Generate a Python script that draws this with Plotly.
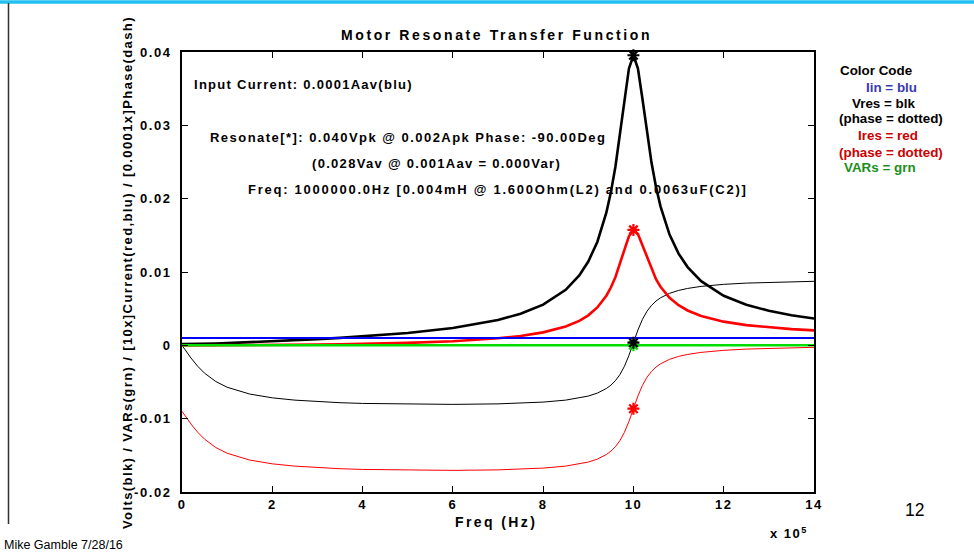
import plotly.graph_objects as go

# ---------------- data ----------------
freq_e5 = [0, 0.1, 0.2, 0.35, 0.5, 0.75, 1.0, 1.5, 2.0, 2.5, 3.0, 3.5, 4.0, 5.0, 6.0, 7.0, 7.5,
           8.0, 8.5, 8.8, 9.0, 9.2, 9.4, 9.5, 9.6, 9.7, 9.8, 9.9, 10.0, 10.1, 10.2, 10.3, 10.4,
           10.5, 10.6, 10.8, 11.0, 11.2, 11.5, 12.0, 12.5, 13.0, 13.5, 14.0]

v_res = [0.00016, 0.000162, 0.000168, 0.000183, 0.000204, 0.000249, 0.000301, 0.000419, 0.000549,
         0.000692, 0.000847, 0.001019, 0.001211, 0.001688, 0.002365, 0.003451, 0.004299, 0.005548,
         0.007577, 0.009540, 0.011427, 0.014100, 0.018092, 0.020858, 0.024326, 0.028584, 0.033402,
         0.037726, 0.039560, 0.037755, 0.033587, 0.028984, 0.024921, 0.021606, 0.018952, 0.015103,
         0.012509, 0.010672, 0.008753, 0.006763, 0.005537, 0.004707, 0.004107, 0.003653]

i_res_x10 = [0.0, 0.0000006, 0.0000013, 0.0000025, 0.0000041, 0.0000074, 0.000012, 0.000025,
             0.0000437, 0.0000688, 0.000101, 0.000142, 0.000193, 0.000336, 0.000565, 0.000961,
             0.001283, 0.001766, 0.002563, 0.003340, 0.004092, 0.005162, 0.006767, 0.007885,
             0.009292, 0.011032, 0.013025, 0.014861, 0.015741, 0.015173, 0.013632, 0.011879,
             0.010313, 0.009027, 0.007993, 0.006490, 0.005475, 0.004756, 0.004005, 0.003229,
             0.002754, 0.002435, 0.002206, 0.002035]

v_phase = [0.0, -0.000889, -0.001737, -0.002867, -0.003797, -0.00494, -0.005715, -0.006644,
           -0.007158, -0.007474, -0.007682, -0.007824, -0.007922, -0.008031, -0.008052, -0.007981,
           -0.007892, -0.00774, -0.007469, -0.007191, -0.006917, -0.006517, -0.005892, -0.005436,
           -0.004827, -0.003999, -0.002869, -0.001384, 0.000364, 0.002097, 0.003546, 0.004643,
           0.005444, 0.006036, 0.006481, 0.007092, 0.007487, 0.007759, 0.008038, 0.008319,
           0.008487, 0.008596, 0.008673, 0.00873]

i_phase = [-0.009, -0.009889, -0.010737, -0.011867, -0.012797, -0.01394, -0.014715, -0.015644,
           -0.016158, -0.016474, -0.016682, -0.016824, -0.016922, -0.017031, -0.017052, -0.016981,
           -0.016892, -0.01674, -0.016469, -0.016191, -0.015917, -0.015517, -0.014892, -0.014436,
           -0.013827, -0.012999, -0.011869, -0.010384, -0.008636, -0.006903, -0.005454, -0.004357,
           -0.003556, -0.002964, -0.002519, -0.001908, -0.001513, -0.001241, -0.000962, -0.000681,
           -0.000513, -0.000404, -0.000327, -0.00027]

i_in_level = [0.001, 0.001]
vars_level = [0.0, 0.0]
line_span = [0, 14]
res_freq = 10.0

x_tick_vals = [0, 2, 4, 6, 8, 10, 12, 14]
x_tick_text = ["0", "2", "4", "6", "8", "10", "12", "14"]
y_tick_vals = [-0.02, -0.01, 0, 0.01, 0.02, 0.03, 0.04]
y_tick_text = ["-0.02", "-0.01", "0", "0.01", "0.02", "0.03", "0.04"]

# ---------------- layout helpers ----------------
W, H = 974, 554
L, R, T, B = 182, 814, 52, 492


def px(x):
    return (x - L) / (R - L)


def py(y):
    return (B - y) / (B - T)


def sp(text, ls):
    return f'<span style="letter-spacing:{ls}px">{text}</span>'


FONT = "Liberation Sans"
ri = freq_e5.index(res_freq)

fig = go.Figure()
fig.add_trace(go.Scatter(x=freq_e5, y=v_phase, mode="lines", line=dict(color="black", width=1)))
fig.add_trace(go.Scatter(x=freq_e5, y=i_phase, mode="lines", line=dict(color="#ff0000", width=1)))
fig.add_trace(go.Scatter(x=freq_e5, y=v_res, mode="lines", line=dict(color="black", width=2.6)))
fig.add_trace(go.Scatter(x=freq_e5, y=i_res_x10, mode="lines", line=dict(color="#ff0000", width=2.6)))
fig.add_trace(go.Scatter(x=line_span, y=i_in_level, mode="lines", line=dict(color="#0000ff", width=1.8)))
fig.add_trace(go.Scatter(x=line_span, y=vars_level, mode="lines", line=dict(color="#00dd00", width=2.5)))

fig.add_trace(go.Scatter(x=[res_freq], y=[vars_level[0]], mode="markers",
                         marker=dict(symbol="asterisk-open", size=10, color="#00dd00",
                                     line=dict(color="#00dd00", width=2.2))))
for yv, col in [(v_res[ri], "black"), (i_res_x10[ri], "#ff0000"),
                (v_phase[ri], "black"), (i_phase[ri], "#ff0000")]:
    fig.add_trace(go.Scatter(x=[res_freq], y=[yv], mode="markers", cliponaxis=False,
                             marker=dict(symbol="asterisk-open", size=10, color=col,
                                         line=dict(color=col, width=2.2))))

axis_common = dict(showgrid=False, zeroline=False, showline=True, linecolor="black", linewidth=1.5,
                   mirror="ticks", ticks="inside", ticklen=6, tickwidth=1, tickcolor="black",
                   tickfont=dict(family=FONT, size=13, color="black", weight="bold"))

fig.update_layout(
    width=W, height=H, autosize=False,
    margin=dict(l=L, r=W - R, t=T, b=H - B, pad=0),
    paper_bgcolor="white", plot_bgcolor="white", showlegend=False,
    xaxis=dict(range=[0, 14], tickvals=x_tick_vals,
               ticktext=[sp(t, 1.5) for t in x_tick_text], ticklabelstandoff=0, **axis_common),
    yaxis=dict(range=[-0.02, 0.04], tickvals=y_tick_vals,
               ticktext=[sp(t, 1.6) for t in y_tick_text], ticklabelstandoff=6, **axis_common),
)

ann = []


def add_text(text, x, y, size=13, color="black", bold=True, ls=0, xanchor="center", angle=0):
    t = sp(text, ls) if ls else text
    ann.append(dict(text=t, x=px(x), y=py(y), xref="paper", yref="paper", showarrow=False,
                    xanchor=xanchor, yanchor="middle", textangle=angle,
                    font=dict(family=FONT, size=size, color=color, weight="bold" if bold else "normal")))


add_text("Motor Resonate Transfer Function", 496, 35, size=14, ls=2.6)
add_text("Freq (Hz)", 496, 522, size=14, ls=2.4)
add_text("x 10<sup>5</sup>", 789, 533, size=13, ls=1.5)
add_text("Volts(blk) / VARs(grn) / [10x]Current(red,blu) / [0.0001x]Phase(dash)", 127, 273,
         size=13, ls=1.4, angle=-90)

add_text("Input Current: 0.0001Aav(blu)", 303, 84, size=13, ls=1.27)
add_text("Resonate[*]: 0.040Vpk @ 0.002Apk Phase: -90.00Deg", 408, 137, size=13, ls=1.46)
add_text("(0.028Vav @ 0.001Aav = 0.000Var)", 436, 163, size=13, ls=1.3)
add_text("Freq: 1000000.0Hz [0.004mH @ 1.600Ohm(L2) and 0.0063uF(C2)]", 497.5, 190, size=13, ls=1.75)

legend_lines = [("Color Code", 876, 70, "black"), ("Iin = blu", 891, 87, "#3a3ab0"),
                ("Vres = blk", 883.5, 103, "black"), ("(phase = dotted)", 891, 118, "black"),
                ("Ires = red", 887.5, 135, "#cc0000"), ("(phase = dotted)", 891, 152, "#cc0000"),
                ("VARs = grn", 880, 167, "#1a8f1a")]
for txt, x, y, c in legend_lines:
    add_text(txt, x, y, size=13.4, color=c)

add_text("12", 914, 510, size=17.5, bold=False)
add_text("Mike Gamble 7/28/16", 2, 545, size=12.5, bold=False, xanchor="left")

fig.update_layout(annotations=ann)

fig.add_shape(type="line", xref="paper", yref="paper", x0=px(0), x1=px(W), y0=py(2), y1=py(2),
              layer="above", line=dict(color="#22c0f0", width=3.5))
fig.add_shape(type="line", xref="paper", yref="paper", x0=px(8.5), x1=px(8.5), y0=py(3), y1=py(524),
              line=dict(color="#333333", width=1.5))

fig.write_html("out.html")
